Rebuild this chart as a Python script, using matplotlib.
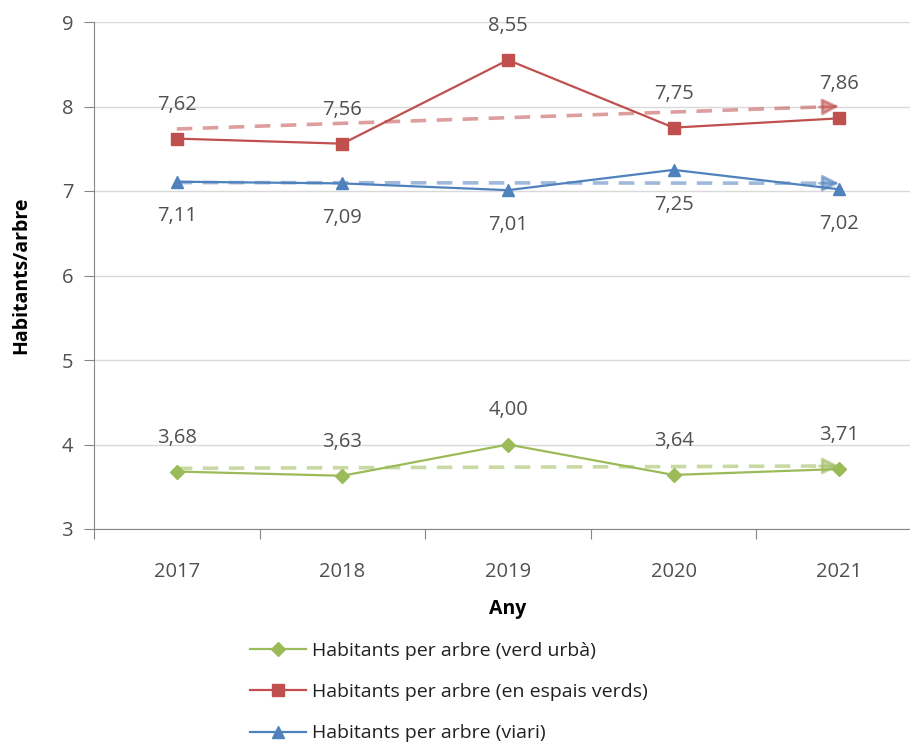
import numpy as np
import matplotlib
matplotlib.use('Agg')
import matplotlib.pyplot as plt
from matplotlib.lines import Line2D

plt.rcParams['font.family'] = ['Open Sans', 'DejaVu Sans']

years = ['2017', '2018', '2019', '2020', '2021']
verd_urba = [3.68, 3.63, 4.00, 3.64, 3.71]
espais_verds = [7.62, 7.56, 8.55, 7.75, 7.86]
viari = [7.11, 7.09, 7.01, 7.25, 7.02]

series = [
    # label, values, colour, marker, marker size, label offset (pt, + above)
    ('Habitants per arbre (verd urbà)', verd_urba, '#9BBB59', 'D', 7, 24.5),
    ('Habitants per arbre (en espais verds)', espais_verds, '#C0504D', 's', 9, 24.5),
    ('Habitants per arbre (viari)', viari, '#4F81BD', '^', 9, -25),
]

fig = plt.figure(figsize=(9.1, 7.49), dpi=100)
ax = fig.add_axes([94 / 910, 1 - 529 / 749, (922 - 94) / 910, (529 - 22) / 749])

x = np.arange(len(years))
handles = []
for label, vals, col, mk, ms, off in series:
    ax.plot(x, vals, color=col, lw=1.6, marker=mk, ms=ms, zorder=3)
    # linear trend line, lighter, ending in an arrow head
    slope, inter = np.polyfit(x, vals, 1)
    trend = slope * x + inter
    ax.plot(x[:-1].tolist() + [x[-1] - 0.1], list(trend[:-1]) + [trend[-1] - 0.1 * slope],
            color=col, alpha=0.55, lw=2.6, dashes=(4.3, 2.9), zorder=4, solid_capstyle='butt')
    ax.annotate('', xy=(x[-1], trend[-1]), xytext=(x[-1] - 0.12, trend[-1] - 0.12 * slope),
                arrowprops=dict(arrowstyle='-|>,head_length=1.0,head_width=0.5', color=col,
                                alpha=0.55, lw=2.0, shrinkA=0, shrinkB=0), zorder=4)
    for xi, v in zip(x, vals):
        ax.annotate(f'{v:.2f}'.replace('.', ','), (xi, v), xytext=(0, off), textcoords='offset points',
                    ha='center', va='center', fontsize=14.5, color='#505050')
    handles.append(Line2D([], [], color=col, lw=1.6, marker=mk, ms=ms, label=label))

ax.set_xlim(-0.5, 4.5)
ax.set_ylim(3, 9)
ax.set_yticks(range(3, 10))
ax.yaxis.grid(True, color='#D9D9D9', lw=1)
ax.set_axisbelow(True)

ax.set_xticks(np.arange(-0.5, 5, 1))
ax.set_xticklabels([])
ax.set_xticks(x, minor=True)
ax.set_xticklabels(years, minor=True)
ax.tick_params(axis='x', which='major', length=7, color='#868686', direction='out')
ax.tick_params(axis='x', which='minor', length=0, pad=24, labelsize=14.5, labelcolor='#505050')
ax.tick_params(axis='y', length=7, color='#868686', pad=8, labelsize=14.5, labelcolor='#505050')

for s in ['top', 'right']:
    ax.spines[s].set_visible(False)
for s in ['left', 'bottom']:
    ax.spines[s].set_color('#868686')

ax.set_ylabel('Habitants/arbre', fontsize=14, fontweight='bold', labelpad=22)
ax.set_xlabel('Any', fontsize=14, fontweight='bold', labelpad=12)

fig.legend(handles=handles, loc='upper left', bbox_to_anchor=(240 / 910, 1 - 632 / 749),
           frameon=False, fontsize=14, handlelength=2.9, labelspacing=1.2, handletextpad=0.3,
           borderpad=0, labelcolor='#202020')

fig.savefig('out.png', dpi=100)
